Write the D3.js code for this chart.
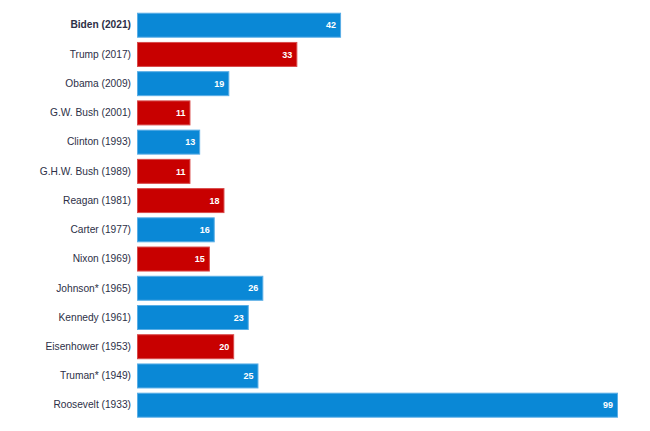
<!DOCTYPE html>
<html>
<head>
<meta charset="utf-8">
<script src="https://cdn.jsdelivr.net/npm/d3@7"></script>
<style>
  html, body { margin: 0; padding: 0; background: #fff; }
  svg { display: block; }
</style>
</head>
<body>
<div id="chart"></div>
<script>
const presidents = ["Biden (2021)", "Trump (2017)", "Obama (2009)", "G.W. Bush (2001)", "Clinton (1993)", "G.H.W. Bush (1989)", "Reagan (1981)", "Carter (1977)", "Nixon (1969)", "Johnson* (1965)", "Kennedy (1961)", "Eisenhower (1953)", "Truman* (1949)", "Roosevelt (1933)"];
const values = [42, 33, 19, 11, 13, 11, 18, 16, 15, 26, 23, 20, 25, 99];
const parties = ["D", "R", "D", "R", "D", "R", "R", "D", "R", "D", "D", "R", "D", "D"];

const data = presidents.map((p, i) => ({ name: p, value: values[i], party: parties[i] }));

const W = 650, H = 431;
const x0 = 137;
const svg = d3.select("#chart").append("svg").attr("width", W).attr("height", H);

const x = d3.scaleLinear().domain([0, 99]).range([x0, 618]);
const y = d3.scaleBand().domain(presidents).range([10.6, 419.8]).paddingInner(0.145).paddingOuter(0.0725);

const fill = { D: "#0a88d6", R: "#c80000" };
const stroke = { D: "#5aaee6", R: "#d84a4a" };

svg.append("g").selectAll("rect").data(data).join("rect")
  .attr("x", x(0) + 0.5)
  .attr("y", d => y(d.name) + 0.5)
  .attr("width", d => x(d.value) - x(0) - 1)
  .attr("height", y.bandwidth() - 1)
  .attr("fill", d => fill[d.party])
  .attr("stroke", d => stroke[d.party])
  .attr("stroke-width", 1);

svg.append("g").selectAll("text").data(data).join("text")
  .attr("x", d => x(d.value) - 5)
  .attr("y", d => y(d.name) + y.bandwidth() / 2)
  .attr("dy", "0.35em")
  .attr("text-anchor", "end")
  .attr("fill", "#ffffff")
  .attr("font-family", "Liberation Sans, Arial, sans-serif")
  .attr("font-size", 9)
  .attr("font-weight", "bold")
  .text(d => d.value);

const axis = d3.axisLeft(y).tickSize(0).tickPadding(6);
const g = svg.append("g").attr("transform", `translate(${x0},0)`).call(axis);
g.select(".domain").remove();
g.selectAll("text")
  .attr("fill", "#2d3047")
  .attr("font-family", "Liberation Sans, Arial, sans-serif")
  .attr("font-size", 10.2)
  .attr("font-weight", (d, i) => i === 0 ? "bold" : "normal");
</script>
</body>
</html>
